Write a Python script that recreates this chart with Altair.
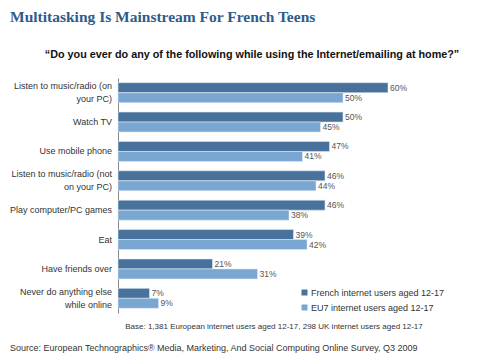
import altair as alt
import pandas as pd

categories = [
    "Listen to music/radio (on\nyour PC)",
    "Watch TV",
    "Use mobile phone",
    "Listen to music/radio (not\non your PC)",
    "Play computer/PC games",
    "Eat",
    "Have friends over",
    "Never do anything else\nwhile online",
]
series = ["French internet users aged 12-17", "EU7 internet users aged 12-17"]
french = [60, 50, 47, 46, 46, 39, 21, 7]
eu7 = [50, 45, 41, 44, 38, 42, 31, 9]

rows = []
for c, f, e in zip(categories, french, eu7):
    rows.append({"cat": c, "series": series[0], "order": 0, "value": f, "label": f"{f}%"})
    rows.append({"cat": c, "series": series[1], "order": 1, "value": e, "label": f"{e}%"})
df = pd.DataFrame(rows)

# category label lines, for drawing the (multi-line) y labels
lab_rows = []
for c in categories:
    parts = c.split("\n")
    if len(parts) == 1:
        lab_rows.append({"cat": c, "line": parts[0], "pos": "single"})
    else:
        lab_rows.append({"cat": c, "line": parts[0], "pos": "top"})
        lab_rows.append({"cat": c, "line": parts[1], "pos": "bottom"})
lab_df = pd.DataFrame(lab_rows)

W, H = 300, 235
XMAX = W / 4.5

FONT = "Liberation Sans"

yscale = alt.Scale(paddingInner=0.32, paddingOuter=0.16)
y_enc = alt.Y("cat:N", sort=categories, scale=yscale,
              axis=alt.Axis(title=None, ticks=False, labels=False,
                            domainColor="#888888", domainWidth=1))
yoff = alt.YOffset("order:O", scale=alt.Scale(paddingInner=0, paddingOuter=0))
x_enc = alt.X("value:Q", scale=alt.Scale(domain=[0, XMAX], nice=False),
              axis=None)

color = alt.Color("series:N", sort=series,
                  scale=alt.Scale(domain=series, range=["#48729c", "#7aa6d2"]),
                  legend=alt.Legend(title=None, orient="none", legendX=182, legendY=210,
                                    symbolType="square", symbolSize=36,
                                    symbolStrokeWidth=0, labelFont=FONT,
                                    labelFontSize=9, labelColor="#333333",
                                    rowPadding=5, labelOffset=2))

bars = alt.Chart(df).mark_bar(stroke="#dde8f3", strokeWidth=0.6).encode(
    y=y_enc, yOffset=yoff, x=x_enc, color=color
)
labels = alt.Chart(df).mark_text(align="left", baseline="middle", dx=2,
                                 font=FONT, fontSize=8.5, color="#555555").encode(
    y=alt.Y("cat:N", sort=categories), yOffset=yoff, x="value:Q", text="label:N"
)

def ylab(pos, dy):
    return alt.Chart(lab_df).transform_filter(alt.datum.pos == pos).mark_text(
        align="right", baseline="middle", dy=dy, font=FONT, fontSize=9, color="#333333"
    ).encode(y=alt.Y("cat:N", sort=categories), x=alt.value(-6), text="line:N")

ylabels = [ylab("single", 0), ylab("top", -6.5), ylab("bottom", 6.5)]

def txt(text, x, y, size, align="left", bold=False, color="#222222", font=FONT):
    return alt.Chart(pd.DataFrame({"t": [text]})).mark_text(
        align=align, baseline="middle", fontSize=size, font=font,
        fontWeight="bold" if bold else "normal", color=color
    ).encode(x=alt.value(x), y=alt.value(y), text="t:N")

title = txt("Multitasking Is Mainstream For French Teens", -108, -61, 15.5,
            bold=True, color="#2f5b8c", font="Liberation Serif")
sub = txt("\u201cDo you ever do any of the following while using the Internet/emailing at home?\u201d",
          134, -23, 10.8, align="center", bold=True, color="#111111")
base = txt("Base: 1,381 European internet users aged 12-17, 298 UK internet users aged 12-17",
           156, 249, 8, align="center", color="#333333")
source = txt("Source: European Technographics\u00ae Media, Marketing, And Social Computing Online Survey, Q3 2009",
             -108, 270, 9, color="#333333")

chart = alt.layer(bars, labels, *ylabels, title, sub, base, source).properties(
    width=W, height=H,
    padding={"left": 110, "top": 70, "right": 74, "bottom": 40},
    autosize=alt.AutoSizeParams(type="none"),
    background="white",
).configure_view(stroke=None)

chart.save("out.html", embed_options={"renderer": "svg", "actions": False})
